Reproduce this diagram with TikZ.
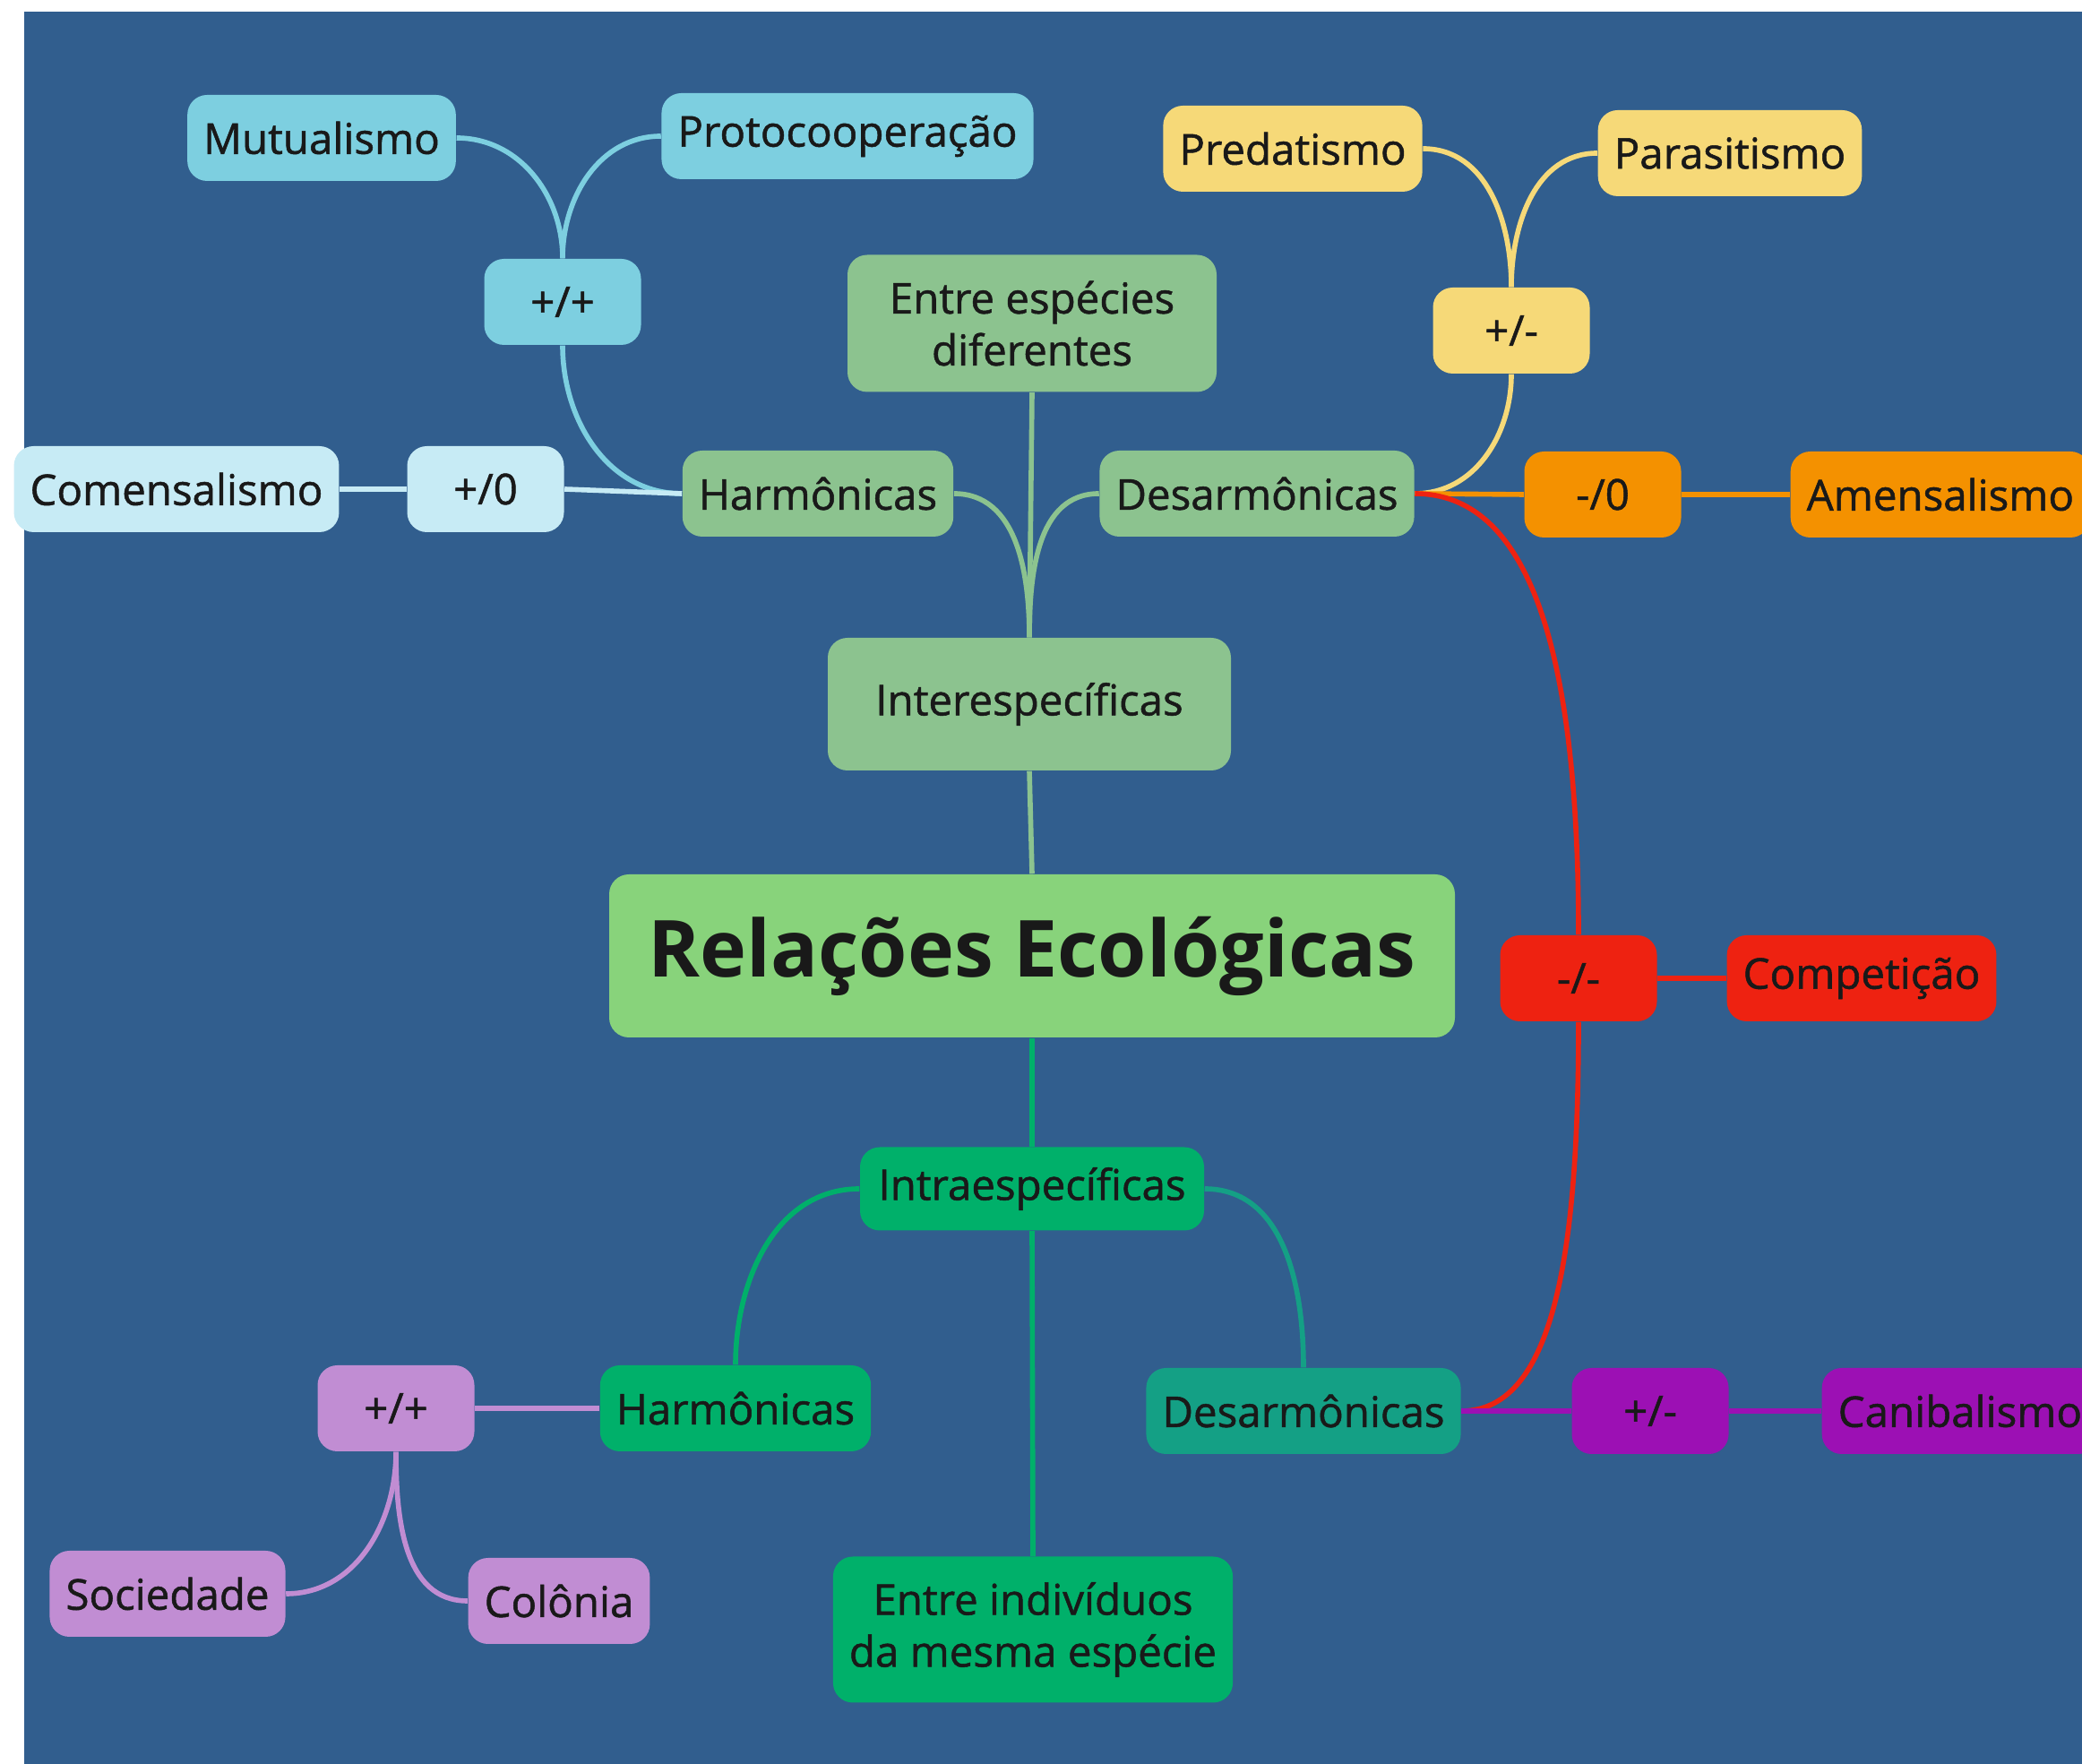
\documentclass[tikz,border=0pt]{standalone}
\usepackage{fontspec}
\setmainfont{Open Sans}[UprightFeatures={FakeBold=1.1}]

\definecolor{fundo}{HTML}{315E8E}
\definecolor{azul}{HTML}{7DCFE0}
\definecolor{azulclaro}{HTML}{C7EBF5}
\definecolor{salvia}{HTML}{8CC38F}
\definecolor{amarelo}{HTML}{F6D978}
\definecolor{laranja}{HTML}{F49100}
\definecolor{vermelho}{HTML}{EE2211}
\definecolor{verdeclaro}{HTML}{88D37B}
\definecolor{verde}{HTML}{00B06A}
\definecolor{teal}{HTML}{14A085}
\definecolor{lilas}{HTML}{C18DD3}
\definecolor{roxo}{HTML}{9C10B4}

\begin{document}
\begin{tikzpicture}[
  ramo/.style={rounded corners=2.2mm, minimum height=0.96cm, minimum width=1.75cm,
    inner xsep=1.8mm, text=black!90, align=center,
    font=\fontsize{13.5}{16.5}\selectfont},
  liga/.style={line width=1.6pt},
]
  \useasboundingbox (0,0) rectangle (23.24,19.69);
  \clip (0,0) rectangle (23.24,19.69);
  \fill[white] (0,0) rectangle (23.24,19.69);
  \fill[fundo] (0.27,0) rectangle (23.24,19.56);

  % centro
  \node[ramo, fill=verdeclaro, minimum width=9.44cm, minimum height=1.82cm,
    font=\fontsize{25}{30}\selectfont\bfseries] (relacoes) at (11.52,9.02) {Relações Ecológicas};

  % interespecificas
  \node[ramo, fill=salvia, minimum width=4.5cm, minimum height=1.48cm] (inter) at (11.49,11.83) {Interespecíficas};
  \node[ramo, fill=salvia, minimum width=4.12cm, minimum height=1.53cm] (entreesp) at (11.52,16.08) {Entre espécies\\diferentes};
  \node[ramo, fill=salvia] (harm) at (9.13,14.18) {Harmônicas};
  \node[ramo, fill=salvia] (desarm) at (14.03,14.18) {Desarmônicas};

  \node[ramo, fill=azul] (maismais) at (6.28,16.32) {+/+};
  \node[ramo, fill=azul] (mutualismo) at (3.59,18.15) {Mutualismo};
  \node[ramo, fill=azul] (proto) at (9.46,18.17) {Protocooperação};
  \node[ramo, fill=azulclaro] (maiszero) at (5.42,14.23) {+/0};
  \node[ramo, fill=azulclaro] (comensal) at (1.97,14.23) {Comensalismo};

  \node[ramo, fill=amarelo] (maismenos) at (16.87,16.00) {+/-};
  \node[ramo, fill=amarelo] (predat) at (14.43,18.03) {Predatismo};
  \node[ramo, fill=amarelo] (parasit) at (19.31,17.98) {Parasitismo};
  \node[ramo, fill=laranja] (menoszero) at (17.89,14.17) {-/0};
  \node[ramo, fill=laranja, anchor=west] (amensal) at (19.98,14.17) {Amensalismo};
  \node[ramo, fill=vermelho] (menosmenos) at (17.62,8.77) {-/-};
  \node[ramo, fill=vermelho] (competicao) at (20.78,8.77) {Competição};

  % intraespecificas
  \node[ramo, fill=verde, minimum width=3.84cm, minimum height=0.93cm] (intra) at (11.52,6.42) {Intraespecíficas};
  \node[ramo, fill=verde, minimum width=4.45cm, minimum height=1.63cm] (entreind) at (11.53,1.50) {Entre indivíduos\\da mesma espécie};
  \node[ramo, fill=verde] (harmb) at (8.21,3.97) {Harmônicas};
  \node[ramo, fill=teal] (desarmb) at (14.55,3.94) {Desarmônicas};

  \node[ramo, fill=lilas] (maismaisb) at (4.42,3.97) {+/+};
  \node[ramo, fill=lilas] (sociedade) at (1.87,1.90) {Sociedade};
  \node[ramo, fill=lilas] (colonia) at (6.24,1.82) {Colônia};
  \node[ramo, fill=roxo] (maismenosb) at (18.42,3.94) {+/-};
  \node[ramo, fill=roxo, anchor=west] (canibal) at (20.33,3.94) {Canibalismo};

  % ligacoes de cima
  \draw[liga, salvia] (relacoes.north) -- (inter.south);
  \draw[liga, salvia] (entreesp.south) -- (inter.north);
  \draw[liga, salvia] (harm.east) to[out=0, in=90] (inter.north);
  \draw[liga, salvia] (desarm.west) to[out=180, in=90] (inter.north);
  \draw[liga, azul] (maismais.south) to[out=-90, in=180] (harm.west);
  \draw[liga, azul] (mutualismo.east) to[out=0, in=90] (maismais.north);
  \draw[liga, azul] (proto.west) to[out=180, in=90] (maismais.north);
  \draw[liga, azulclaro] (harm.west) -- (maiszero.east);
  \draw[liga, azulclaro] (maiszero.west) -- (comensal.east);
  \draw[liga, amarelo] (desarm.east) to[out=0, in=-90] (maismenos.south);
  \draw[liga, amarelo] (maismenos.north) to[out=90, in=0] (predat.east);
  \draw[liga, amarelo] (maismenos.north) to[out=90, in=180] (parasit.west);
  \draw[liga, laranja] (desarm.east) -- (menoszero.west);
  \draw[liga, laranja] (menoszero.east) -- (amensal.west);
  \draw[liga, vermelho] (desarm.east) to[out=0, in=90, out looseness=0.6, in looseness=1.6] (menosmenos.north);
  \draw[liga, vermelho] (menosmenos.east) -- (competicao.west);

  % ligacoes de baixo
  \draw[liga, verde] (relacoes.south) -- (intra.north);
  \draw[liga, verde] (intra.south) -- (entreind.north);
  \draw[liga, verde] (intra.west) to[out=180, in=90] (harmb.north);
  \draw[liga, teal] (intra.east) to[out=0, in=90] (desarmb.north);
  \draw[liga, lilas] (harmb.west) -- (maismaisb.east);
  \draw[liga, lilas] (maismaisb.south) to[out=-90, in=0] (sociedade.east);
  \draw[liga, lilas] (maismaisb.south) to[out=-90, in=180] (colonia.west);
  \draw[liga, vermelho] (desarmb.east) to[out=0, in=-90, out looseness=0.6, in looseness=1.4] (menosmenos.south);
  \draw[liga, roxo] (desarmb.east) -- (maismenosb.west);
  \draw[liga, roxo] (maismenosb.east) -- (canibal.west);
\end{tikzpicture}
\end{document}
